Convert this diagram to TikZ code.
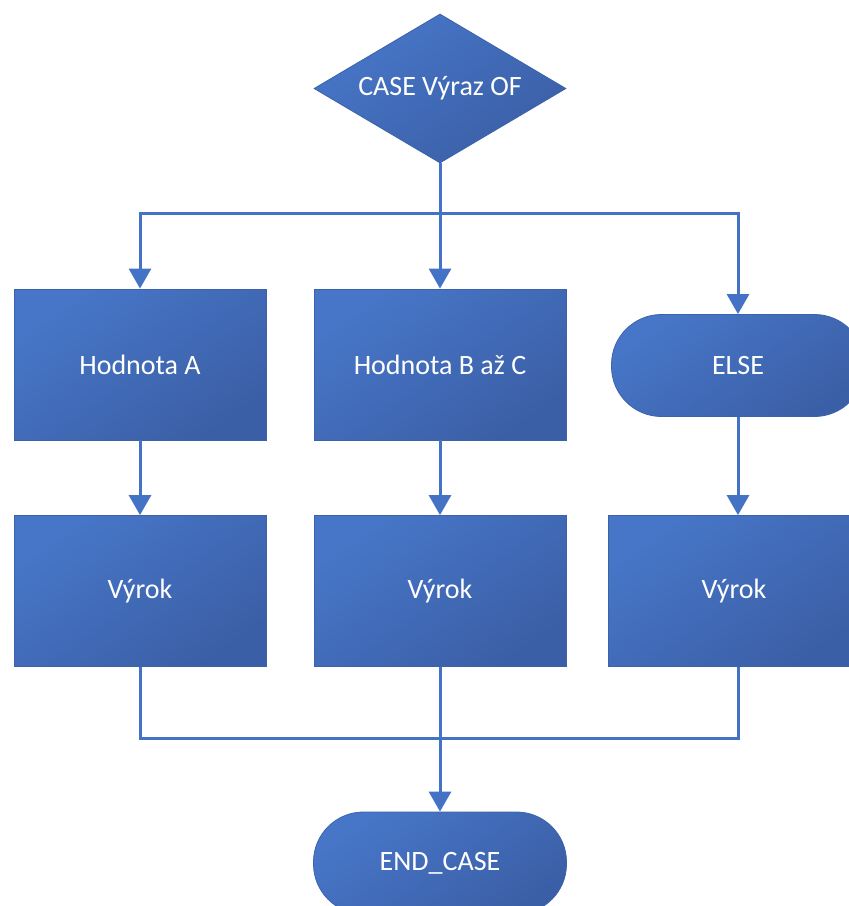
\documentclass[tikz,border=0pt]{standalone}
\usepackage{fontspec}
\setmainfont{Carlito}
\usetikzlibrary{shapes.geometric,arrows.meta}
\definecolor{flowline}{HTML}{4472C4}
\definecolor{fillhi}{HTML}{4776C8}
\definecolor{filllo}{HTML}{3B5FA6}
\definecolor{rim}{HTML}{3C62AA}
\tikzset{
  shapefill/.style={top color=fillhi, bottom color=filllo, shading angle=35,
    draw=rim, line width=0.8pt, text=white, font=\fontsize{28}{32}\selectfont,
    inner sep=0pt},
  procbox/.style={shapefill, rectangle, minimum width=252pt, minimum height=151pt},
  termbox/.style={shapefill, rectangle, rounded corners=50pt, minimum width=253pt, minimum height=102pt},
  decbox/.style={shapefill, diamond, shape aspect=1.69, minimum width=252pt, minimum height=149pt},
  link/.style={draw=flowline, line width=3pt},
  arrowlink/.style={link, -{Triangle[width=22pt,length=20pt]}}
}
\begin{document}
\begin{tikzpicture}[x=1pt,y=-1pt]
  \useasboundingbox (0,0) rectangle (849,906);
  \fill[white] (0,0) rectangle (849,906);

  % decision
  \node[decbox] (case) at (440,88.5) {CASE Výraz OF};

  % first row
  \node[procbox] (ha) at (140,364.5) {Hodnota A};
  \node[procbox] (hb) at (440,364.5) {Hodnota B až C};
  \node[termbox] (else) at (738,365.5) {ELSE};

  % second row
  \node[procbox] (va) at (140,591) {Výrok};
  \node[procbox] (vb) at (440,591) {Výrok};
  \node[procbox] (vc) at (734,591) {Výrok};

  % terminator
  \node[termbox] (end) at (440,863) {END\_CASE};

  % branching
  \coordinate (split) at (440,213);
  \draw[link] (case.south) -- (split);
  \draw[arrowlink] (split) -| (ha.north);
  \draw[arrowlink] (split) -- (hb.north);
  \draw[arrowlink] (split) -| (else.north);

  % row links
  \draw[arrowlink] (ha.south) -- (va.north);
  \draw[arrowlink] (hb.south) -- (vb.north);
  \draw[arrowlink] (else.south) -- (else.south |- vc.north);

  % merging
  \coordinate (merge) at (440,738);
  \draw[link] (va.south) |- (merge);
  \draw[link] (else.south |- vc.south) |- (merge);
  \draw[arrowlink] (vb.south) -- (end.north);
\end{tikzpicture}
\end{document}
